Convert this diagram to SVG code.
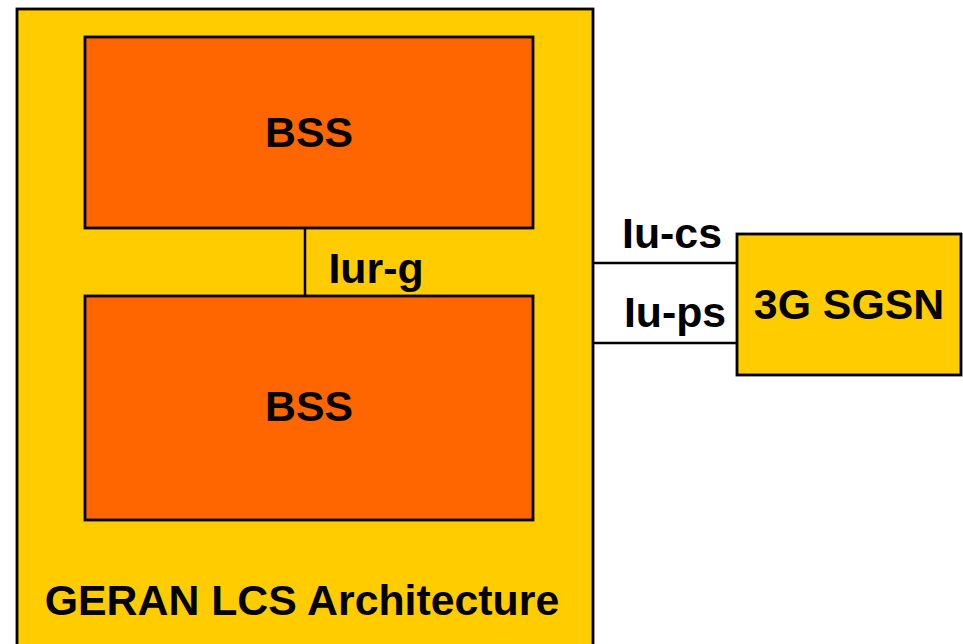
<svg xmlns="http://www.w3.org/2000/svg" width="963" height="644" viewBox="0 0 963 644">
<style>
.box{fill:#FFCC00;stroke:#000;stroke-width:2.8}
.bss{fill:#FF6600;stroke:#000;stroke-width:2.8}
.t{font-family:"Liberation Sans",Arial,sans-serif;font-weight:bold;font-size:42.8px;fill:#000}
.ln{stroke:#000;stroke-width:2.5;fill:none}
</style>
<rect width="963" height="644" fill="#fff"/>
<g id="geran">
<rect class="box" x="17" y="9" width="576" height="660"/>
<text class="t" x="302" y="615" text-anchor="middle">GERAN LCS Architecture</text>
</g>
<g id="bss1">
<rect class="bss" x="85" y="37" width="448" height="191"/>
<text class="t" x="309" y="147" text-anchor="middle">BSS</text>
</g>
<g id="bss2">
<rect class="bss" x="85" y="296" width="448" height="224"/>
<text class="t" x="309" y="421" text-anchor="middle">BSS</text>
</g>
<g id="sgsn">
<rect class="box" x="737" y="234" width="224" height="141"/>
<text class="t" x="849" y="319" text-anchor="middle">3G SGSN</text>
</g>
<g id="connectors">
<line class="ln" x1="593" y1="263" x2="737" y2="263"/>
<line class="ln" x1="593" y1="343" x2="737" y2="343"/>
<line class="ln" x1="305" y1="228" x2="305" y2="296"/>
<text class="t" x="376" y="283" text-anchor="middle">Iur-g</text>
<text class="t" x="672" y="248" text-anchor="middle">Iu-cs</text>
<text class="t" x="675" y="327" text-anchor="middle">Iu-ps</text>
</g>
</svg>
